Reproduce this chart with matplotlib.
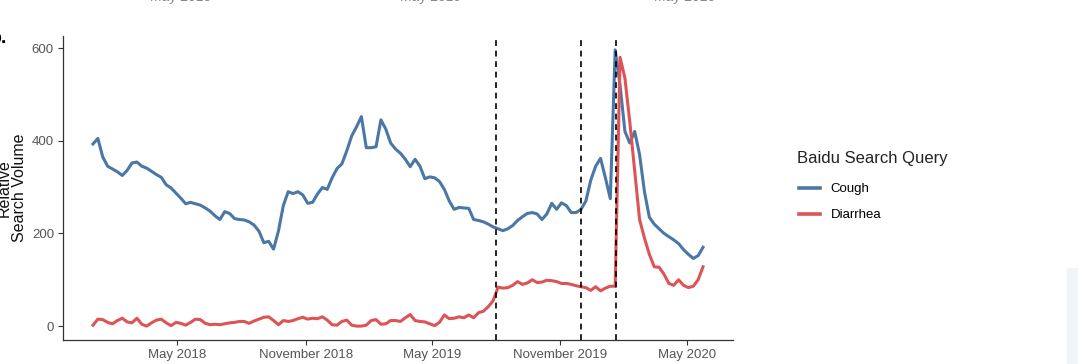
import numpy as np
import matplotlib
matplotlib.use("Agg")
import matplotlib.pyplot as plt
import matplotlib.dates as mdates
from matplotlib.patches import Rectangle

plt.rcParams['font.family'] = ['Liberation Sans', 'DejaVu Sans']

# Weekly Baidu index, first week starting 2017-12-31
first_week = np.datetime64('2017-12-31')
cough = [393, 405, 365, 345, 339, 333, 325, 336, 352, 354,
         345, 341, 334, 327, 321, 305, 298, 287, 276, 264,
         267, 264, 261, 255, 248, 238, 230, 247, 243, 232,
         230, 229, 225, 218, 205, 180, 183, 166, 205, 260,
         290, 286, 290, 283, 265, 267, 285, 299, 295, 320,
         340, 350, 378, 410, 430, 452, 385, 385, 387, 445,
         425, 395, 382, 373, 360, 344, 360, 345, 318, 322,
         320, 312, 295, 270, 252, 256, 255, 254, 230, 228,
         225, 220, 214, 210, 206, 210, 217, 228, 236, 243,
         245, 242, 230, 242, 265, 252, 266, 260, 245, 245,
         252, 270, 315, 345, 362, 320, 275, 596, 520, 420,
         395, 420, 370, 290, 235, 220, 210, 200, 193, 186,
         178, 165, 155, 146, 152, 170]
diarrhea = [2, 15, 14, 8, 5, 12, 17, 9, 7, 17,
            4, 0, 7, 13, 15, 7, 1, 8, 6, 2,
            8, 15, 14, 6, 3, 4, 3, 5, 7, 8,
            10, 10, 6, 11, 15, 19, 20, 12, 3, 12,
            10, 12, 16, 19, 15, 17, 16, 20, 13, 3,
            2, 10, 13, 2, 0, 0, 2, 12, 14, 4,
            5, 12, 12, 10, 18, 25, 12, 10, 9, 5,
            1, 8, 24, 16, 17, 20, 18, 24, 18, 29,
            32, 42, 55, 84, 82, 83, 88, 96, 90, 93,
            100, 94, 95, 99, 98, 96, 92, 92, 90, 87,
            85, 83, 77, 85, 76, 82, 86, 86, 580, 535,
            440, 335, 230, 190, 155, 128, 127, 112, 92, 88,
            100, 88, 83, 86, 100, 128]
weeks = first_week + np.arange(len(cough)) * np.timedelta64(7, 'D')

# key dates marked with dashed lines
events = np.array(['2019-08-01', '2019-12-01', '2020-01-20'], dtype='datetime64[D]')

series_names = ['Cough', 'Diarrhea']
series_colors = ['#4a77a6', '#de5456']
top_labels = ['May 2018', 'November 2018', 'May 2019', 'November 2019', 'May 2020']

W, H = 1078, 364
fig = plt.figure(figsize=(W / 100, H / 100), dpi=100)
ax = fig.add_axes([63 / W, 24 / H, 670 / W, 304 / H])

for vals, name, col in zip([cough, diarrhea], series_names, series_colors):
    ax.plot(weeks, vals, color=col, lw=2.2, label=name, solid_joinstyle='round')

for d in events:
    ax.axvline(d, color='black', lw=1.2, ls=(0, (3.5, 2.8)))

# ggplot-style 5% padding
pad = (weeks[-1] - weeks[0]) * 0.05
ax.set_xlim(weeks[0] - pad, weeks[-1] + pad)
ax.set_ylim(-30, 626)
ax.set_yticks([0, 200, 400, 600])
ax.xaxis.set_major_locator(mdates.MonthLocator(bymonth=[5, 11]))
ax.xaxis.set_major_formatter(mdates.DateFormatter('%B %Y'))

for side in ['top', 'right']:
    ax.spines[side].set_visible(False)
for side in ['left', 'bottom']:
    ax.spines[side].set_color('#333333')
    ax.spines[side].set_linewidth(0.9)
ax.tick_params(length=3.5, width=0.8, color='#333333', labelcolor='#555555',
               labelsize=9.5, pad=3)

fig.text(12 / W, 1 - 188 / H, 'Relative\nSearch Volume', rotation=90, ha='center',
         va='center', fontsize=11.5, linespacing=1.0, color='#111111')

# legend title drawn separately to control the gap above the keys
fig.text(797 / W, 1 - 158 / H, 'Baidu Search Query', fontsize=12,
         color='#222222', ha='left', va='center')
leg = ax.legend(loc='upper left', bbox_to_anchor=(799 / W, 1 - 183 / H),
                bbox_transform=fig.transFigure, frameon=False, fontsize=9.5,
                handlelength=1.6, handletextpad=0.8, labelspacing=1.05,
                borderpad=0, borderaxespad=0)
for h in leg.get_lines():
    h.set_linewidth(2.6)

# panel tag and the bottom edge of the panel above
fig.text(-10 / W, 1 - 43 / H, 'b.', fontsize=14, fontweight='bold',
         va='baseline', ha='left')
for xc, lab in zip([181, 307, 430, 562, 685], top_labels):
    fig.text(xc / W, 1 - 0.5 / H, lab, fontsize=10, color='#888888',
             ha='center', va='baseline')

fig.patches.append(Rectangle((1067 / W, 0), 11 / W, 96 / H,
                             transform=fig.transFigure, color='#f2f5f8', zorder=-1))

fig.savefig('out.png', dpi=100)
